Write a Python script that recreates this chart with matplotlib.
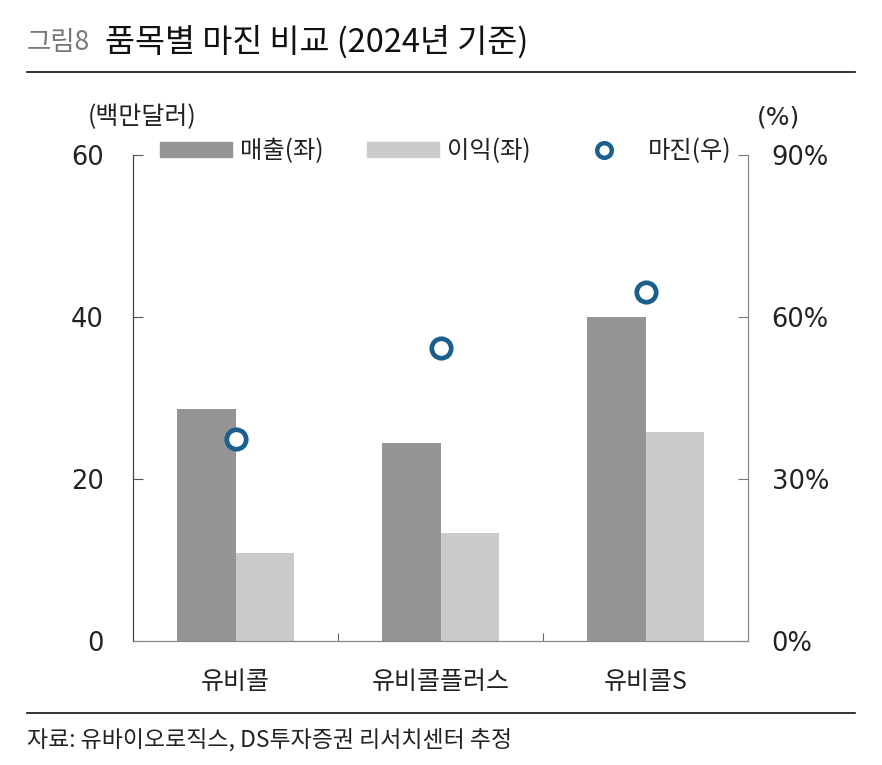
import matplotlib
matplotlib.use("Agg")
import matplotlib.pyplot as plt
import numpy as np
from matplotlib.lines import Line2D

plt.rcParams['font.family'] = ['Noto Sans CJK KR', 'DejaVu Sans']

categories = ['유비콜', '유비콜플러스', '유비콜S']
revenue = [28.6, 24.5, 40.0]      # 매출(좌), 백만달러
profit = [10.9, 13.3, 25.8]       # 이익(좌), 백만달러
margin = [37.5, 54.3, 64.6]       # 마진(우), %
left_ticks = [0, 20, 40, 60]
right_ticks = [0, 30, 60, 90]
right_ticklabels = ['0%', '30%', '60%', '90%']
legend_labels = ['매출(좌)', '이익(좌)', '마진(우)']

W, H = 882, 765
fig = plt.figure(figsize=(W / 100, H / 100), dpi=100)
ax = fig.add_axes([133 / W, 1 - 641 / H, (748 - 133) / W, (641 - 155) / H])
ax2 = ax.twinx()

x = np.arange(len(categories))
bw = 0.285
c_rev = '#959595'
c_pro = '#cbcbcb'
c_mar = '#1b5f8c'

ax.bar(x - bw / 2, revenue, bw, color=c_rev, zorder=2)
ax.bar(x + bw / 2, profit, bw, color=c_pro, zorder=2)
ax2.plot(x, margin, linestyle='none', marker='o', markersize=14,
         markerfacecolor='white', markeredgecolor=c_mar, markeredgewidth=3.4,
         zorder=3)

ax.set_xlim(-0.5, 2.5)
ax.set_ylim(0, 60)
ax2.set_ylim(0, 90)

ax.set_yticks(left_ticks)
ax.set_yticklabels([str(v) for v in left_ticks], family='DejaVu Sans')
ax2.set_yticks(right_ticks)
ax2.set_yticklabels(right_ticklabels, family='DejaVu Sans')

ax.set_xticks([0.5, 1.5])
ax.set_xticklabels([])
ax.set_xticks(x, minor=True)
ax.set_xticklabels(categories, minor=True, fontsize=18, color='#222222')
ax.tick_params(axis='x', which='major', direction='in', length=6, color='#666666')
ax.tick_params(axis='x', which='minor', length=0, pad=20)

ax.tick_params(axis='y', direction='in', length=7, pad=21, labelsize=18.5,
               color='#555555', labelcolor='#222222')
ax2.tick_params(axis='y', direction='in', length=7, pad=17, labelsize=18.5,
                color='#777777', labelcolor='#222222')

for a in (ax, ax2):
    a.spines['top'].set_visible(False)
    a.spines['left'].set_color('#444444')
    a.spines['right'].set_color('#888888')
    a.spines['bottom'].set_color('#888888')

# legend: three entries placed individually
handles = [
    plt.Rectangle((0, 0), 1, 1, color=c_rev),
    plt.Rectangle((0, 0), 1, 1, color=c_pro),
    Line2D([], [], linestyle='none', marker='o', markersize=10.5,
           markerfacecolor='white', markeredgecolor=c_mar, markeredgewidth=3.2),
]
legend_x = [160, 367, 568]
for h, lab, lx in zip(handles, legend_labels, legend_x):
    lg = fig.legend([h], [lab], loc='center left', bbox_to_anchor=(lx / W, 1 - 151 / H),
                    frameon=False, fontsize=17.5, handlelength=72 / 24.3, handleheight=0.62,
                    handletextpad=0.33, borderaxespad=0, borderpad=0)
    for t in lg.get_texts():
        t.set_color('#222222')

# unit labels
fig.text(88 / W, 1 - 117 / H, '(백만달러)', fontsize=18, va='center', ha='left', color='#222222')
fig.text(757 / W, 1 - 117 / H, '(%)', fontsize=18, va='center', ha='left', color='#222222',
         family='DejaVu Sans')

# title
fig.text(27 / W, 1 - 42 / H, '그림8', fontsize=19, va='center', ha='left', color='#777777')
fig.text(105 / W, 1 - 42 / H, '품목별 마진 비교 (2024년 기준)', fontsize=23.5, va='center',
         ha='left', color='#111111')
fig.add_artist(Line2D([27 / W, 855 / W], [1 - 72 / H, 1 - 72 / H], color='#111111', lw=1.2))

# footer
fig.add_artist(Line2D([27 / W, 855 / W], [1 - 713 / H, 1 - 713 / H], color='#111111', lw=1.2))
fig.text(27 / W, 1 - 740 / H, '자료: 유바이오로직스, DS투자증권 리서치센터 추정', fontsize=16.5,
         va='center', ha='left', color='#222222')

fig.savefig('out.png', dpi=100)
